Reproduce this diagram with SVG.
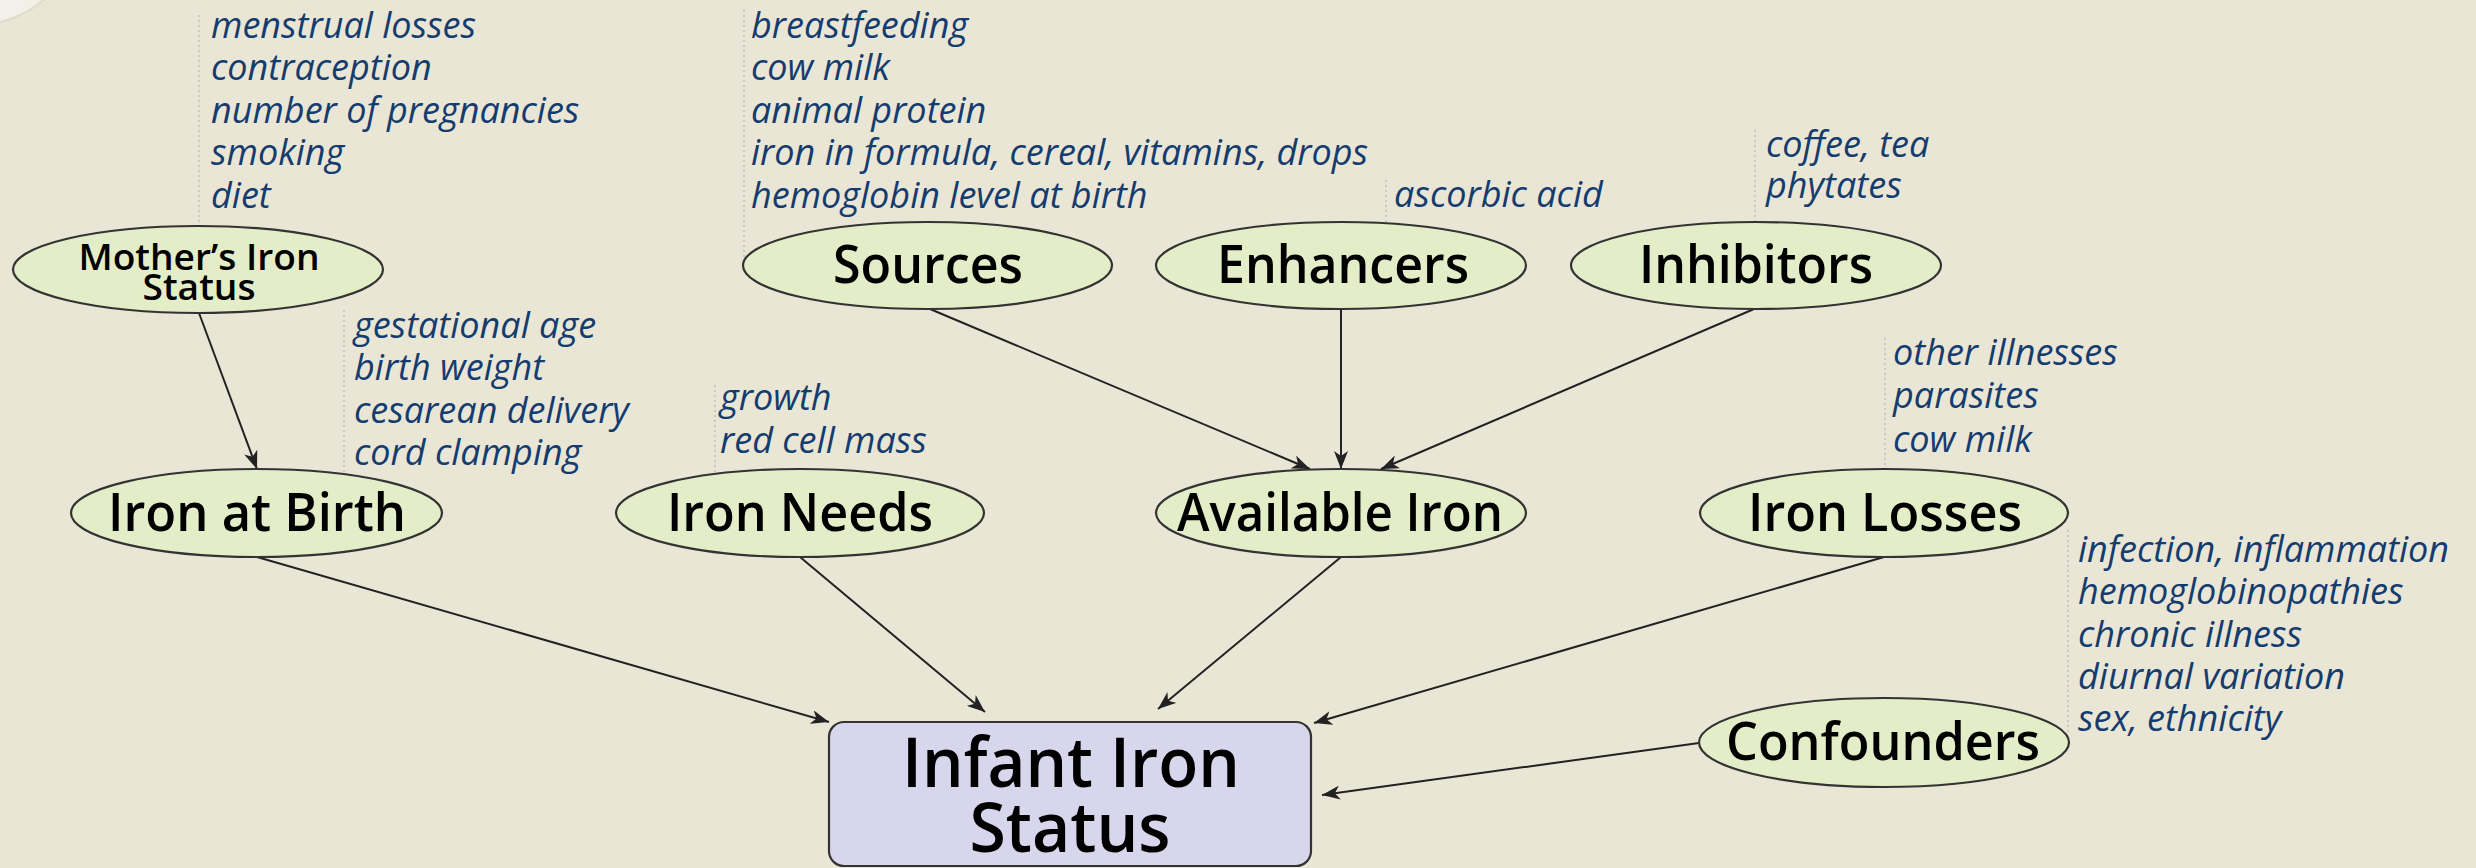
<svg xmlns="http://www.w3.org/2000/svg" width="2476" height="868" viewBox="0 0 2476 868">
<style>
.node ellipse{fill:#e3edc7;stroke:#333;stroke-width:2.2}
.box{fill:#d8d6ec;stroke:#333;stroke-width:2.2}
.lbl{font-family:"Open Sans","Liberation Sans",sans-serif;font-weight:600;fill:#000;text-anchor:middle}
.ann{font-family:"Open Sans","Liberation Sans",sans-serif;font-style:italic;font-size:36px;fill:#143c6e}
.dot{stroke:#b9b9b2;stroke-width:1.3;stroke-dasharray:2 3;fill:none}
.edge{stroke:#222;stroke-width:2;fill:none;marker-end:url(#arr)}
</style>
<defs>
<marker id="arr" markerWidth="20" markerHeight="14" refX="18" refY="7" orient="auto" markerUnits="userSpaceOnUse">
<path d="M0,0 L18,7 L0,14 L5,7 Z" fill="#222"/>
</marker>
</defs>
<rect width="2476" height="868" fill="#eae6d6"/>
<circle cx="-24" cy="-78" r="103" fill="#f2f0e8" stroke="#dedbc9" stroke-width="2"/>

<g id="annotations">
<line class="dot" x1="199" y1="15" x2="199" y2="226"/>
<text class="ann" x="211" y="38">menstrual losses</text>
<text class="ann" x="211" y="80">contraception</text>
<text class="ann" x="211" y="123">number of pregnancies</text>
<text class="ann" x="211" y="165">smoking</text>
<text class="ann" x="211" y="208">diet</text>

<line class="dot" x1="744" y1="10" x2="744" y2="262"/>
<text class="ann" x="751" y="38">breastfeeding</text>
<text class="ann" x="751" y="80">cow milk</text>
<text class="ann" x="751" y="123">animal protein</text>
<text class="ann" x="751" y="165">iron in formula, cereal, vitamins, drops</text>
<text class="ann" x="751" y="208">hemoglobin level at birth</text>

<line class="dot" x1="1386" y1="180" x2="1386" y2="223"/>
<text class="ann" x="1394" y="207">ascorbic acid</text>

<line class="dot" x1="1755" y1="130" x2="1755" y2="222"/>
<text class="ann" x="1766" y="157">coffee, tea</text>
<text class="ann" x="1766" y="198">phytates</text>

<line class="dot" x1="344" y1="310" x2="344" y2="474"/>
<text class="ann" x="354" y="338">gestational age</text>
<text class="ann" x="354" y="380">birth weight</text>
<text class="ann" x="354" y="423">cesarean delivery</text>
<text class="ann" x="354" y="465">cord clamping</text>

<line class="dot" x1="715" y1="385" x2="715" y2="474"/>
<text class="ann" x="720" y="410">growth</text>
<text class="ann" x="720" y="453">red cell mass</text>

<line class="dot" x1="1885" y1="338" x2="1885" y2="469"/>
<text class="ann" x="1893" y="365">other illnesses</text>
<text class="ann" x="1893" y="408">parasites</text>
<text class="ann" x="1893" y="452">cow milk</text>

<line class="dot" x1="2068" y1="530" x2="2068" y2="742"/>
<text class="ann" x="2078" y="562">infection, inflammation</text>
<text class="ann" x="2078" y="604">hemoglobinopathies</text>
<text class="ann" x="2078" y="647">chronic illness</text>
<text class="ann" x="2078" y="689">diurnal variation</text>
<text class="ann" x="2078" y="731">sex, ethnicity</text>
</g>

<g id="connectors">
<line class="edge" x1="199" y1="313" x2="257" y2="469"/>
<line class="edge" x1="930" y1="309" x2="1310" y2="469"/>
<line class="edge" x1="1341" y1="309" x2="1341" y2="469"/>
<line class="edge" x1="1754" y1="309" x2="1381" y2="469"/>
<line class="edge" x1="257" y1="557" x2="829" y2="722"/>
<line class="edge" x1="800" y1="557" x2="985" y2="712"/>
<line class="edge" x1="1341" y1="557" x2="1158" y2="709"/>
<line class="edge" x1="1884" y1="557" x2="1314" y2="723"/>
<line class="edge" x1="1699" y1="743" x2="1322" y2="795"/>
</g>

<g id="mothers-iron-status" class="node">
<ellipse cx="198" cy="269.5" rx="185" ry="43.5"/>
<text class="lbl" x="199" y="270" font-size="36" textLength="241" lengthAdjust="spacingAndGlyphs">Mother’s Iron</text>
<text class="lbl" x="199" y="300" font-size="36" textLength="113" lengthAdjust="spacingAndGlyphs">Status</text>
</g>
<g id="sources" class="node">
<ellipse cx="927.5" cy="265.5" rx="184.5" ry="43.5"/>
<text class="lbl" x="928" y="283" font-size="52" textLength="190" lengthAdjust="spacingAndGlyphs">Sources</text>
</g>
<g id="enhancers" class="node">
<ellipse cx="1341" cy="265.5" rx="185" ry="43.5"/>
<text class="lbl" x="1343" y="283" font-size="52" textLength="252" lengthAdjust="spacingAndGlyphs">Enhancers</text>
</g>
<g id="inhibitors" class="node">
<ellipse cx="1756" cy="265.5" rx="185" ry="43.5"/>
<text class="lbl" x="1756" y="283" font-size="52" textLength="234" lengthAdjust="spacingAndGlyphs">Inhibitors</text>
</g>
<g id="iron-at-birth" class="node">
<ellipse cx="256.5" cy="513" rx="185.5" ry="44"/>
<text class="lbl" x="257" y="531" font-size="52" textLength="298" lengthAdjust="spacingAndGlyphs">Iron at Birth</text>
</g>
<g id="iron-needs" class="node">
<ellipse cx="800" cy="513" rx="184" ry="44"/>
<text class="lbl" x="800" y="531" font-size="52" textLength="266" lengthAdjust="spacingAndGlyphs">Iron Needs</text>
</g>
<g id="available-iron" class="node">
<ellipse cx="1341" cy="513" rx="185" ry="44"/>
<text class="lbl" x="1340" y="531" font-size="52" textLength="326" lengthAdjust="spacingAndGlyphs">Available Iron</text>
</g>
<g id="iron-losses" class="node">
<ellipse cx="1884" cy="513" rx="184" ry="44"/>
<text class="lbl" x="1885" y="531" font-size="52" textLength="274" lengthAdjust="spacingAndGlyphs">Iron Losses</text>
</g>
<g id="confounders" class="node">
<ellipse cx="1884" cy="742.5" rx="185" ry="44.5"/>
<text class="lbl" x="1883" y="760" font-size="52" textLength="314" lengthAdjust="spacingAndGlyphs">Confounders</text>
</g>
<g id="infant-iron-status">
<rect class="box" x="829" y="722" width="482" height="144" rx="15"/>
<text class="lbl" x="1071" y="787" font-size="68" textLength="338" lengthAdjust="spacingAndGlyphs">Infant Iron</text>
<text class="lbl" x="1070" y="852" font-size="68" textLength="201" lengthAdjust="spacingAndGlyphs">Status</text>
</g>
</svg>
